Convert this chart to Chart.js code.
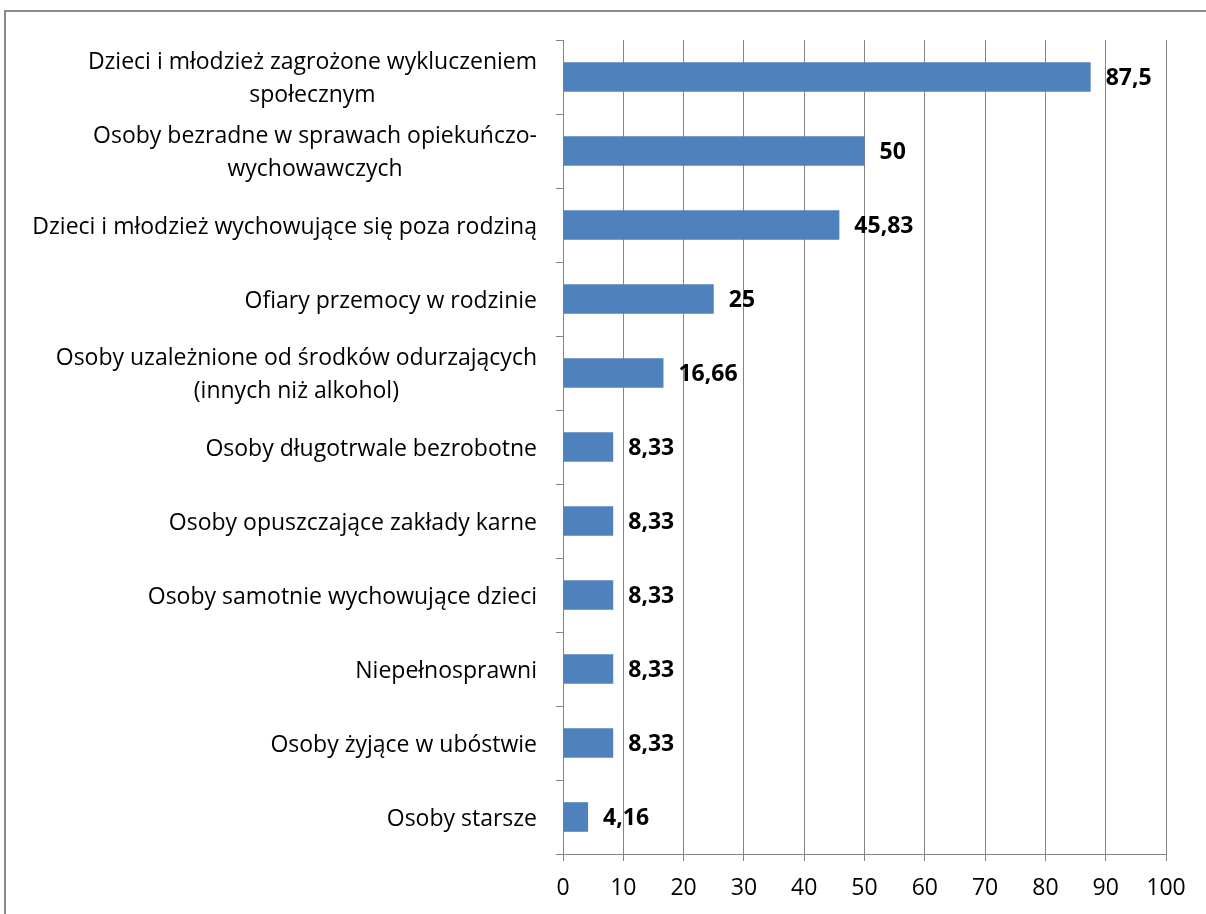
<!DOCTYPE html>
<html lang="pl">
<head>
    <meta charset="UTF-8">
    <title>Grupy wymagające wsparcia</title>
    <script src="https://cdn.jsdelivr.net/npm/chart.js"></script>
    <style>
        body { margin: 0; background: #fff; overflow: hidden; }
        .frame {
            position: absolute;
            left: 4px;
            top: 10px;
            width: 1400px;
            height: 1000px;
            border-left: 2px solid #8c8c8c;
            border-top: 2px solid #8c8c8c;
        }
        #chart { position: absolute; left: 0; top: 0; }
    </style>
</head>
<body>
    <div class="frame"></div>
    <canvas id="chart" width="1206" height="914"></canvas>

    <script>
        // categories (multi-line ones as arrays)
        const categories = [
            ["Dzieci i młodzież zagrożone wykluczeniem", "społecznym"],
            ["Osoby bezradne w sprawach opiekuńczo-", "wychowawczych"],
            "Dzieci i młodzież wychowujące się poza rodziną",
            "Ofiary przemocy w rodzinie",
            ["Osoby uzależnione od środków odurzających", "(innych niż alkohol)"],
            "Osoby długotrwale bezrobotne",
            "Osoby opuszczające zakłady karne",
            "Osoby samotnie wychowujące dzieci",
            "Niepełnosprawni",
            "Osoby żyjące w ubóstwie",
            "Osoby starsze"
        ];
        const values = [87.5, 50, 45.83, 25, 16.66, 8.33, 8.33, 8.33, 8.33, 8.33, 4.16];
        const xTicks = [0, 10, 20, 30, 40, 50, 60, 70, 80, 90, 100];

        const FONT = '"Open Sans", sans-serif';
        const gridColor = '#858585';

        // y labels drawn by hand so that wrapped lines are centred on each other (like Excel)
        const categoryLabels = {
            id: 'categoryLabels',
            afterDraw(chart) {
                const ctx = chart.ctx;
                const yScale = chart.scales.y;
                const right = chart.chartArea.left - 26;
                const lh = 33;
                ctx.save();
                ctx.font = '23px ' + FONT;
                ctx.fillStyle = '#000';
                ctx.textBaseline = 'middle';
                categories.forEach((cat, i) => {
                    const lines = Array.isArray(cat) ? cat : [cat];
                    const maxW = Math.max(...lines.map(l => ctx.measureText(l).width));
                    const y = yScale.getPixelForValue(i) + 2;
                    const y0 = y - (lines.length - 1) * lh / 2;
                    ctx.textAlign = 'center';
                    lines.forEach((l, j) => {
                        ctx.fillText(l, right - maxW / 2, y0 + j * lh);
                    });
                });
                ctx.restore();
            }
        };

        const valueLabels = {
            id: 'valueLabels',
            afterDatasetsDraw(chart) {
                const ctx = chart.ctx;
                const meta = chart.getDatasetMeta(0);
                ctx.save();
                ctx.font = 'bold 23px ' + FONT;
                ctx.fillStyle = '#000';
                ctx.textAlign = 'left';
                ctx.textBaseline = 'middle';
                meta.data.forEach((bar, i) => {
                    const txt = String(values[i]).replace('.', ',');
                    ctx.fillText(txt, bar.x + 15, bar.y + 1);
                });
                ctx.restore();
            }
        };

        new Chart(document.getElementById('chart').getContext('2d'), {
            type: 'bar',
            data: {
                labels: categories.map(c => Array.isArray(c) ? c.join(' ') : c),
                datasets: [{
                    data: values,
                    backgroundColor: '#4F81BD',
                    borderWidth: 0,
                    barPercentage: 0.4,
                    categoryPercentage: 1
                }]
            },
            options: {
                indexAxis: 'y',
                responsive: false,
                animation: false,
                layout: { padding: { top: 40, right: 40, left: 0, bottom: 0 } },
                plugins: {
                    legend: { display: false },
                    tooltip: { enabled: false }
                },
                scales: {
                    x: {
                        min: 0,
                        max: 100,
                        afterBuildTicks: (scale) => { scale.ticks = xTicks.map(v => ({ value: v })); },
                        afterFit: (scale) => { scale.height = 60; },
                        grid: { color: gridColor, lineWidth: 1, tickLength: 7 },
                        border: { color: gridColor, width: 1 },
                        ticks: {
                            color: '#000',
                            font: { family: FONT, size: 23 },
                            padding: 14
                        }
                    },
                    y: {
                        afterFit: (scale) => { scale.width = 563; },
                        grid: { drawOnChartArea: false, color: gridColor, tickLength: 7, offset: true },
                        border: { color: gridColor, width: 1 },
                        ticks: { display: false }
                    }
                }
            },
            plugins: [categoryLabels, valueLabels]
        });
    </script>
</body>
</html>
